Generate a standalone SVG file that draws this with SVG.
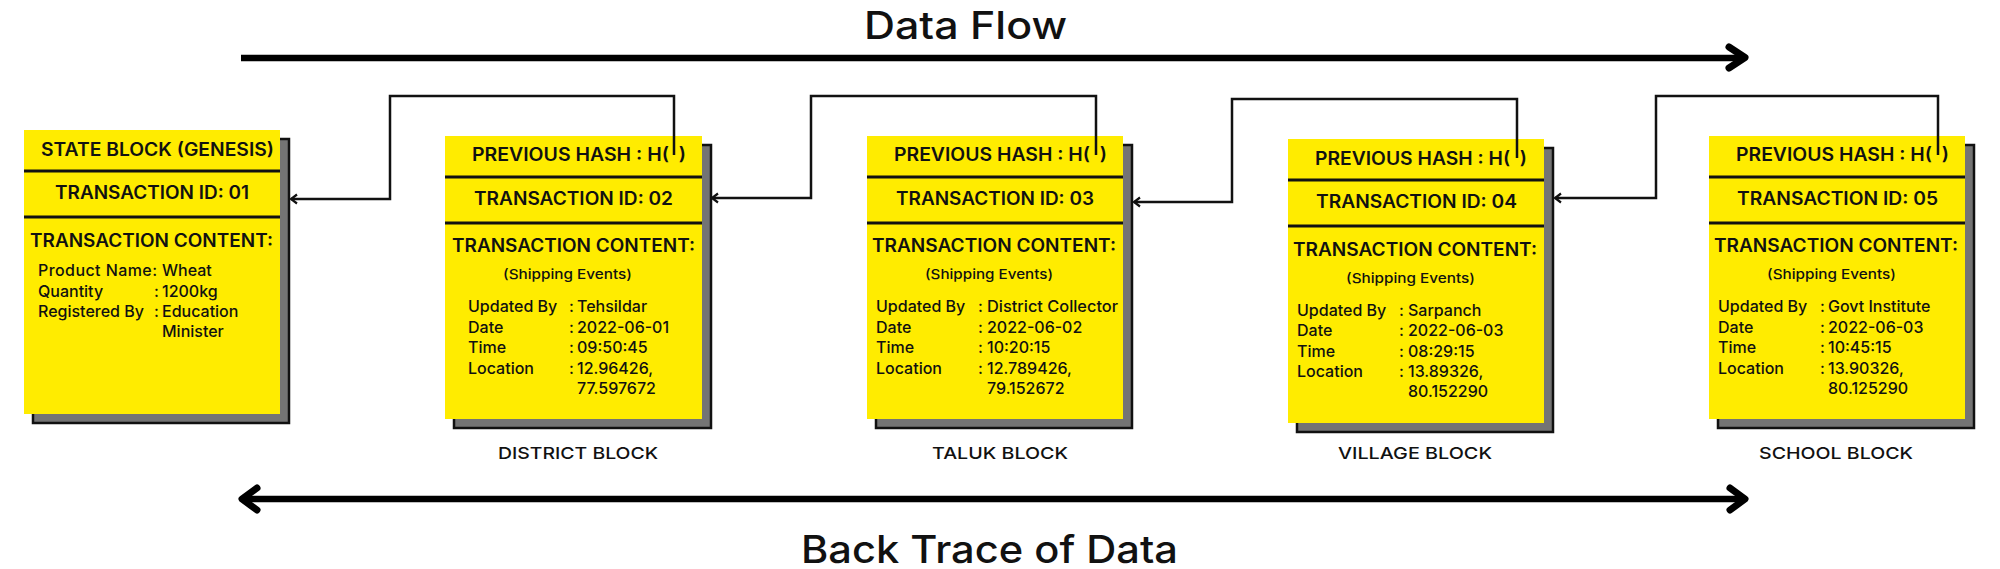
<svg xmlns="http://www.w3.org/2000/svg" width="2000" height="569" viewBox="0 0 2000 569">
<style>
text{font-family:Inter,"Open Sans","Liberation Sans",sans-serif;fill:#111;}
.card{fill:#FFEC00;}
.shadow{fill:#747474;stroke:#111;stroke-width:2.5;}
.div{stroke:#111;stroke-width:3;}
.h{font-size:18px;font-weight:600;}
.sub{font-size:13.5px;font-weight:500;}
.c{font-size:16px;font-weight:500;}
.lbl{font-size:16.5px;font-weight:500;}
.title{font-size:38px;font-weight:500;}
.conn{fill:none;stroke:#111;stroke-width:2.5;}
.big{fill:none;stroke:#000;stroke-width:6.5;}
.head{fill:none;stroke:#000;stroke-width:7;stroke-linecap:round;stroke-linejoin:round;}
</style>
<defs>
<marker id="ah" viewBox="-8 -6 10 12" refX="0" refY="0" markerWidth="10" markerHeight="12" markerUnits="userSpaceOnUse" orient="auto">
<path d="M-6,-4.5 L0,0 L-6,4.5" fill="none" stroke="#111" stroke-width="2.2"/>
</marker>
</defs>
<rect width="2000" height="569" fill="#fff"/>

<g id="titles">
<text class="title" x="864" y="39" textLength="203" lengthAdjust="spacingAndGlyphs">Data Flow</text>
<text class="title" x="801" y="563" textLength="377" lengthAdjust="spacingAndGlyphs">Back Trace of Data</text>
</g>

<g id="block-state">
<rect class="shadow" x="33" y="139" width="256" height="284"/>
<rect class="card" x="24" y="130" width="256" height="284"/>
<line class="div" x1="24" y1="171" x2="280" y2="171"/>
<line class="div" x1="24" y1="217" x2="280" y2="217"/>
<text class="h" x="41" y="156" textLength="233" lengthAdjust="spacingAndGlyphs">STATE BLOCK (GENESIS)</text>
<text class="h" x="55" y="199" textLength="194" lengthAdjust="spacingAndGlyphs">TRANSACTION ID: 01</text>
<text class="h" x="30" y="247" textLength="243" lengthAdjust="spacingAndGlyphs">TRANSACTION CONTENT:</text>
<text class="c" x="38" y="276" textLength="119">Product Name:</text><text class="c" x="162" y="276">Wheat</text>
<text class="c" x="38" y="297">Quantity</text><text class="c" x="154" y="297">:</text><text class="c" x="162" y="297">1200kg</text>
<text class="c" x="38" y="317">Registered By</text><text class="c" x="154" y="317">:</text><text class="c" x="162" y="317">Education</text>
<text class="c" x="162" y="337">Minister</text>
</g>

<g id="block-district">
<rect class="shadow" x="454" y="145" width="257" height="283"/>
<rect class="card" x="445" y="136" width="257" height="283"/>
<line class="div" x1="445" y1="177" x2="702" y2="177"/>
<line class="div" x1="445" y1="223" x2="702" y2="223"/>
<text class="h" x="472" y="161" textLength="214" lengthAdjust="spacingAndGlyphs">PREVIOUS HASH : H(&#160;&#160;)</text>
<text class="h" x="474" y="205" textLength="199" lengthAdjust="spacingAndGlyphs">TRANSACTION ID: 02</text>
<text class="h" x="452" y="252" textLength="243" lengthAdjust="spacingAndGlyphs">TRANSACTION CONTENT:</text>
<text class="sub" x="503" y="279" textLength="129" lengthAdjust="spacingAndGlyphs">(Shipping Events)</text>
<text class="c" x="468" y="312">Updated By</text><text class="c" x="569" y="312">:</text><text class="c" x="577" y="312">Tehsildar</text>
<text class="c" x="468" y="333">Date</text><text class="c" x="569" y="333">:</text><text class="c" x="577" y="333">2022-06-01</text>
<text class="c" x="468" y="353">Time</text><text class="c" x="569" y="353">:</text><text class="c" x="577" y="353">09:50:45</text>
<text class="c" x="468" y="374">Location</text><text class="c" x="569" y="374">:</text><text class="c" x="577" y="374">12.96426,</text>
<text class="c" x="577" y="394">77.597672</text>
<text class="lbl" x="498" y="459" textLength="160" lengthAdjust="spacingAndGlyphs">DISTRICT BLOCK</text>
</g>

<g id="block-taluk">
<rect class="shadow" x="876" y="145" width="256" height="283"/>
<rect class="card" x="867" y="136" width="256" height="283"/>
<line class="div" x1="867" y1="177" x2="1123" y2="177"/>
<line class="div" x1="867" y1="223" x2="1123" y2="223"/>
<text class="h" x="894" y="161" textLength="213" lengthAdjust="spacingAndGlyphs">PREVIOUS HASH : H(&#160;&#160;)</text>
<text class="h" x="896" y="205" textLength="198" lengthAdjust="spacingAndGlyphs">TRANSACTION ID: 03</text>
<text class="h" x="872" y="252" textLength="244" lengthAdjust="spacingAndGlyphs">TRANSACTION CONTENT:</text>
<text class="sub" x="925" y="279" textLength="128" lengthAdjust="spacingAndGlyphs">(Shipping Events)</text>
<text class="c" x="876" y="312">Updated By</text><text class="c" x="978" y="312">:</text><text class="c" x="987" y="312" textLength="131" lengthAdjust="spacingAndGlyphs">District Collector</text>
<text class="c" x="876" y="333">Date</text><text class="c" x="978" y="333">:</text><text class="c" x="987" y="333">2022-06-02</text>
<text class="c" x="876" y="353">Time</text><text class="c" x="978" y="353">:</text><text class="c" x="987" y="353">10:20:15</text>
<text class="c" x="876" y="374">Location</text><text class="c" x="978" y="374">:</text><text class="c" x="987" y="374">12.789426,</text>
<text class="c" x="987" y="394">79.152672</text>
<text class="lbl" x="932" y="459" textLength="136" lengthAdjust="spacingAndGlyphs">TALUK BLOCK</text>
</g>

<g id="block-village">
<rect class="shadow" x="1297" y="148" width="256" height="284"/>
<rect class="card" x="1288" y="139" width="256" height="284"/>
<line class="div" x1="1288" y1="180" x2="1544" y2="180"/>
<line class="div" x1="1288" y1="226" x2="1544" y2="226"/>
<text class="h" x="1315" y="165" textLength="212" lengthAdjust="spacingAndGlyphs">PREVIOUS HASH : H(&#160;&#160;)</text>
<text class="h" x="1316" y="208" textLength="201" lengthAdjust="spacingAndGlyphs">TRANSACTION ID: 04</text>
<text class="h" x="1293" y="256" textLength="244" lengthAdjust="spacingAndGlyphs">TRANSACTION CONTENT:</text>
<text class="sub" x="1346" y="283" textLength="129" lengthAdjust="spacingAndGlyphs">(Shipping Events)</text>
<text class="c" x="1297" y="316">Updated By</text><text class="c" x="1399" y="316">:</text><text class="c" x="1408" y="316">Sarpanch</text>
<text class="c" x="1297" y="336">Date</text><text class="c" x="1399" y="336">:</text><text class="c" x="1408" y="336">2022-06-03</text>
<text class="c" x="1297" y="357">Time</text><text class="c" x="1399" y="357">:</text><text class="c" x="1408" y="357">08:29:15</text>
<text class="c" x="1297" y="377">Location</text><text class="c" x="1399" y="377">:</text><text class="c" x="1408" y="377">13.89326,</text>
<text class="c" x="1408" y="397">80.152290</text>
<text class="lbl" x="1338" y="459" textLength="154" lengthAdjust="spacingAndGlyphs">VILLAGE BLOCK</text>
</g>

<g id="block-school">
<rect class="shadow" x="1718" y="145" width="256" height="283"/>
<rect class="card" x="1709" y="136" width="256" height="283"/>
<line class="div" x1="1709" y1="177" x2="1965" y2="177"/>
<line class="div" x1="1709" y1="223" x2="1965" y2="223"/>
<text class="h" x="1736" y="161" textLength="213" lengthAdjust="spacingAndGlyphs">PREVIOUS HASH : H(&#160;&#160;)</text>
<text class="h" x="1737" y="205" textLength="201" lengthAdjust="spacingAndGlyphs">TRANSACTION ID: 05</text>
<text class="h" x="1714" y="252" textLength="244" lengthAdjust="spacingAndGlyphs">TRANSACTION CONTENT:</text>
<text class="sub" x="1767" y="279" textLength="129" lengthAdjust="spacingAndGlyphs">(Shipping Events)</text>
<text class="c" x="1718" y="312">Updated By</text><text class="c" x="1820" y="312">:</text><text class="c" x="1828" y="312">Govt Institute</text>
<text class="c" x="1718" y="333">Date</text><text class="c" x="1820" y="333">:</text><text class="c" x="1828" y="333">2022-06-03</text>
<text class="c" x="1718" y="353">Time</text><text class="c" x="1820" y="353">:</text><text class="c" x="1828" y="353">10:45:15</text>
<text class="c" x="1718" y="374">Location</text><text class="c" x="1820" y="374">:</text><text class="c" x="1828" y="374">13.90326,</text>
<text class="c" x="1828" y="394">80.125290</text>
<text class="lbl" x="1759" y="459" textLength="154" lengthAdjust="spacingAndGlyphs">SCHOOL BLOCK</text>
</g>

<g id="connectors">
<path class="conn" d="M674,155 V96 H390 V199 H291" marker-end="url(#ah)"/>
<path class="conn" d="M1096,155 V96 H811 V198 H712" marker-end="url(#ah)"/>
<path class="conn" d="M1517,158 V99 H1232 V202 H1134" marker-end="url(#ah)"/>
<path class="conn" d="M1938,155 V96 H1656 V198 H1555" marker-end="url(#ah)"/>
<path class="big" d="M241,58 H1742"/>
<path class="head" d="M1729,47 L1745,57.5 L1729,68"/>
<path class="big" d="M245,499 H1742"/>
<path class="head" d="M257,488 L242,499 L257,510"/>
<path class="head" d="M1730,488 L1745,499 L1730,510"/>
</g>
</svg>
